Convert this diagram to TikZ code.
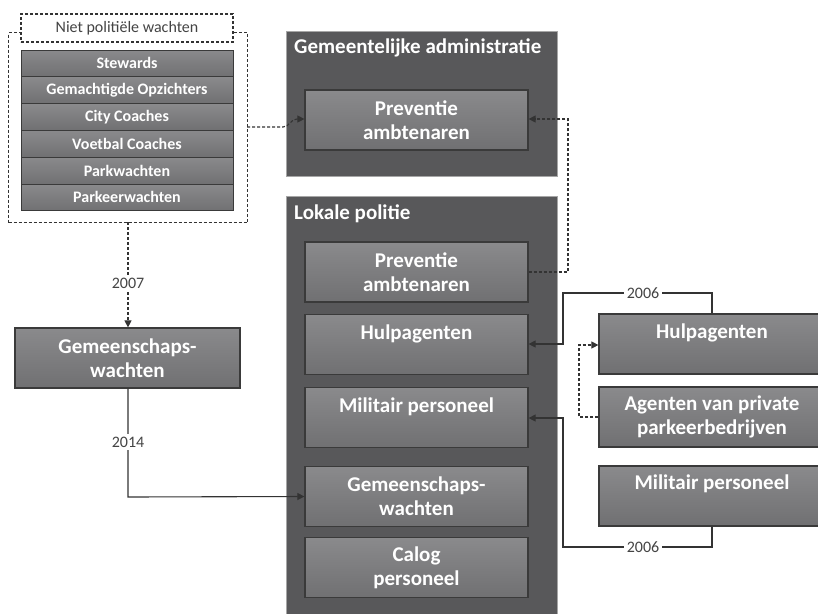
\documentclass[tikz,border=0pt]{standalone}
\usepackage{fontspec}
\setmainfont{Carlito}
\usetikzlibrary{arrows.meta,positioning}
\definecolor{darkbox}{HTML}{58585A}
\definecolor{midtop}{HTML}{8A8A8C}
\definecolor{midbot}{HTML}{707072}
\definecolor{edgec}{HTML}{3A3A3A}
\definecolor{linec}{HTML}{333333}
\definecolor{lblc}{HTML}{444444}
\tikzset{
  container/.style={fill=darkbox, draw=gray!70, line width=0.6pt, anchor=north west, inner sep=0pt},
  ibox/.style={shade, top color=midtop, bottom color=midbot, draw=edgec, line width=1.2pt, minimum width=223pt, minimum height=60pt, inner sep=0pt, text=white, font=\bfseries\fontsize{21}{24}\selectfont, align=center},
  rowbox/.style={shade, top color=midtop, bottom color=midbot, draw=edgec, line width=1pt, minimum width=212pt, minimum height=26.8pt, inner sep=0pt, text=white, font=\bfseries\fontsize{16}{18}\selectfont},
  btxt/.style={text=white, font=\bfseries\fontsize{21}{24}\selectfont, inner sep=0pt},
  ttl/.style={text=white, font=\bfseries\fontsize{21}{24}\selectfont, anchor=west, inner sep=0pt},
  conn/.style={draw=linec, line width=1.1pt},
  dconn/.style={draw=linec, line width=1.1pt, dash pattern=on 3pt off 2pt},
  tip/.style={-{Triangle[length=7pt,width=7pt]}},
  yr/.style={fill=white, text=lblc, font=\fontsize{16}{18}\selectfont, inner sep=3pt},
}
\begin{document}
\begin{tikzpicture}[x=1pt,y=-1pt]
\useasboundingbox (0,0) rectangle (818,613);
\clip (0,0) rectangle (818,613);
% left: non-police
\node[dconn, draw, minimum width=239pt, minimum height=190pt, anchor=north west, inner sep=0pt] (outer) at (8,32) {};
\node[dconn, draw, fill=white, minimum width=212pt, minimum height=28pt, inner sep=0pt, text=lblc, font=\fontsize{16}{18}\selectfont] (niet) at (127,28) {Niet politiële wachten};
\node[rowbox] (r1) at (127,63.4) {Stewards};
\node[rowbox] (r2) at (127,90.2) {Gemachtigde Opzichters};
\node[rowbox] (r3) at (127,117) {City Coaches};
\node[rowbox] (r4) at (127,143.8) {Voetbal Coaches};
\node[rowbox] (r5) at (127,170.6) {Parkwachten};
\node[rowbox] (r6) at (127,197.4) {Parkeerwachten};
\node[ibox, minimum width=225pt] (lgem) at (127.5,358) {Gemeenschaps-\\wachten};
% containers
\node[container, minimum width=271pt, minimum height=145pt] (gadm) at (286,31) {};
\node[ttl] (gadmt) at (294,48) {Gemeentelijke administratie};
\node[container, minimum width=271pt, minimum height=430pt] (lpol) at (286,196) {};
\node[ttl] (lpolt) at (294,214) {Lokale politie};
% boxes
\node[ibox] (tprev) at (416.5,120) {Preventie\\ambtenaren};
\node[ibox] (lprev) at (416.5,272) {Preventie\\ambtenaren};
\node[ibox] (lhulp) at (416.5,344.5) {};
\node[btxt] (lhulpt) at (416.5,334) {Hulpagenten};
\node[ibox] (lmil) at (416.5,417.5) {};
\node[btxt] (lmilt) at (416.5,407) {Militair personeel};
\node[ibox] (lgemp) at (416.5,496.5) {Gemeenschaps-\\wachten};
\node[ibox] (lcal) at (416.5,567.5) {Calog\\personeel};
% right
\node[ibox, minimum width=226pt] (rhulp) at (712,344) {};
\node[btxt] (rhulpt) at (712,333) {Hulpagenten};
\node[ibox, minimum width=226pt] (ragent) at (712,417) {Agenten van private\\parkeerbedrijven};
\node[ibox, minimum width=226pt] (rmil) at (712,496) {};
\node[btxt] (rmilt) at (712,484) {Militair personeel};
% coordinates
\coordinate (o2007) at (128,222);
\coordinate (oright) at (247,127);
% connectors left
\draw[dconn, tip] (o2007) -- (lgem.north -| o2007);
\node[yr] (y2007) at (128,283) {2007};
\draw[conn, tip] (lgem.south -| o2007) -- (128,497) -- (lgemp.west);
\node[yr] (y2014) at (128,442) {2014};
\draw[dconn, tip] (oright) -- (283,127) to[out=0,in=180] (297,119) -- (tprev.west |- 0,119);
% dashed right loop
\draw[dconn, tip] (lprev.east) -- (568,272) -- (568,119) -- (tprev.east |- 0,119);
% 2006 top
\draw[conn, tip] (rhulp.north -| 712,0) -- (712,293) -- (563,293) -- (563,344) -- (lhulp.east |- 0,344);
\node[yr] (y2006a) at (643,293) {2006};
% dashed agenten
\draw[dconn, tip] (ragent.west) -- (579,417) -- (579,345) -- (rhulp.west |- 0,345);
% 2006 bottom
\draw[conn, tip] (rmil.south -| 712,0) -- (712,547) -- (563,547) -- (563,418) -- (lmil.east |- 0,418);
\node[yr] (y2006b) at (643,547) {2006};
\end{tikzpicture}
\end{document}
